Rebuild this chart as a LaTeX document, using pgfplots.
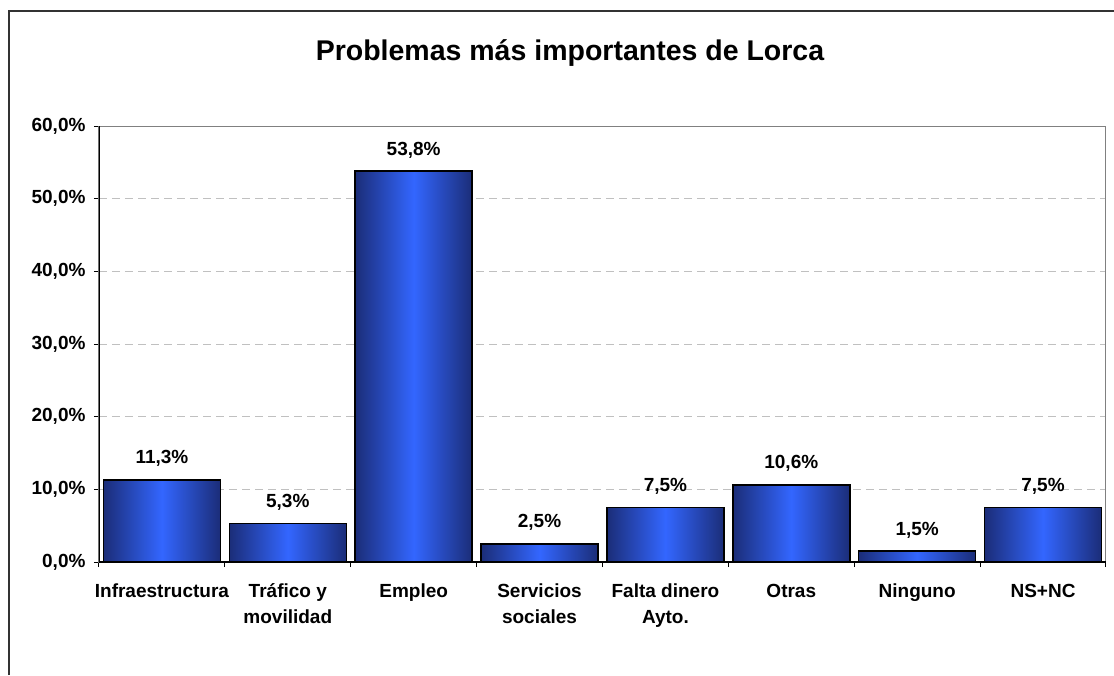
\documentclass[border=0pt]{standalone}
\usepackage{fontspec}
\setmainfont{Liberation Sans}
\usepackage{pgfplots}
\pgfplotsset{compat=1.18}
\definecolor{barEdge}{RGB}{27,45,120}
\definecolor{barMid}{RGB}{51,102,255}
\definecolor{gridc}{RGB}{192,192,192}
\definecolor{framec}{RGB}{51,51,51}
\begin{document}
\begin{tikzpicture}[x=1pt,y=1pt]
\useasboundingbox (0,0) rectangle (1114,675);
\draw[framec, line width=1.5pt] (9,0) -- (9,664) -- (1114,664);
\node[font=\fontsize{28.5}{34}\selectfont\bfseries] at (570,622) {Problemas más importantes de Lorca};
\begin{axis}[
  at={(99pt,113pt)}, anchor=south west,
  scale only axis, width=1007pt, height=436pt,
  xmin=-0.5, xmax=7.5, ymin=0, ymax=60,
  ytick={0,10,...,60},
  xtick={0,...,7},
  xticklabels={Infraestructura, {Tráfico y\\movilidad}, Empleo, {Servicios\\sociales}, {Falta dinero\\Ayto.}, Otras, Ninguno, NS+NC},
  minor xtick={-0.5,0.5,...,7.5},
  major x tick style={draw=none},
  tick align=outside,
  major tick length=5pt, minor tick length=5pt,
  tick style={black, line width=1pt},
  xtick pos=bottom, ytick pos=left,
  /pgf/number format/.cd, use comma, fixed, fixed zerofill, precision=1, assume math mode=true,
  /pgfplots/.cd,
  yticklabel={\pgfmathprintnumber{\tick}\%},
  yticklabel style={font=\fontsize{19}{23}\selectfont\bfseries, xshift=-5pt},
  xticklabel style={font=\fontsize{19}{26}\selectfont\bfseries, align=center, anchor=north, yshift=-9pt},
  typeset ticklabels with strut,
  ymajorgrids,
  major grid style={gridc, dash pattern=on 8pt off 5pt, line width=1pt},
  axis line style={draw=gray, line width=1pt},
  barstyle/.style={ybar, bar width=0.93, bar shift=0pt, draw=black, line width=1.5pt,
    left color=barEdge, right color=barEdge, middle color=barMid,
    nodes near coords={\pgfmathprintnumber{\pgfplotspointmeta}\%},
    every node near coord/.append style={font=\fontsize{19}{23}\selectfont\bfseries, text=black, anchor=base, yshift=16pt}},
]
\addplot[barstyle] coordinates {(0,11.3)};
\addplot[barstyle] coordinates {(1,5.3)};
\addplot[barstyle] coordinates {(2,53.8)};
\addplot[barstyle] coordinates {(3,2.5)};
\addplot[barstyle] coordinates {(4,7.5)};
\addplot[barstyle] coordinates {(5,10.6)};
\addplot[barstyle] coordinates {(6,1.5)};
\addplot[barstyle] coordinates {(7,7.5)};
\draw[black, line width=1.2pt] (rel axis cs:0,1) -- (rel axis cs:0,0) -- (rel axis cs:1,0);
\end{axis}
\end{tikzpicture}
\end{document}
